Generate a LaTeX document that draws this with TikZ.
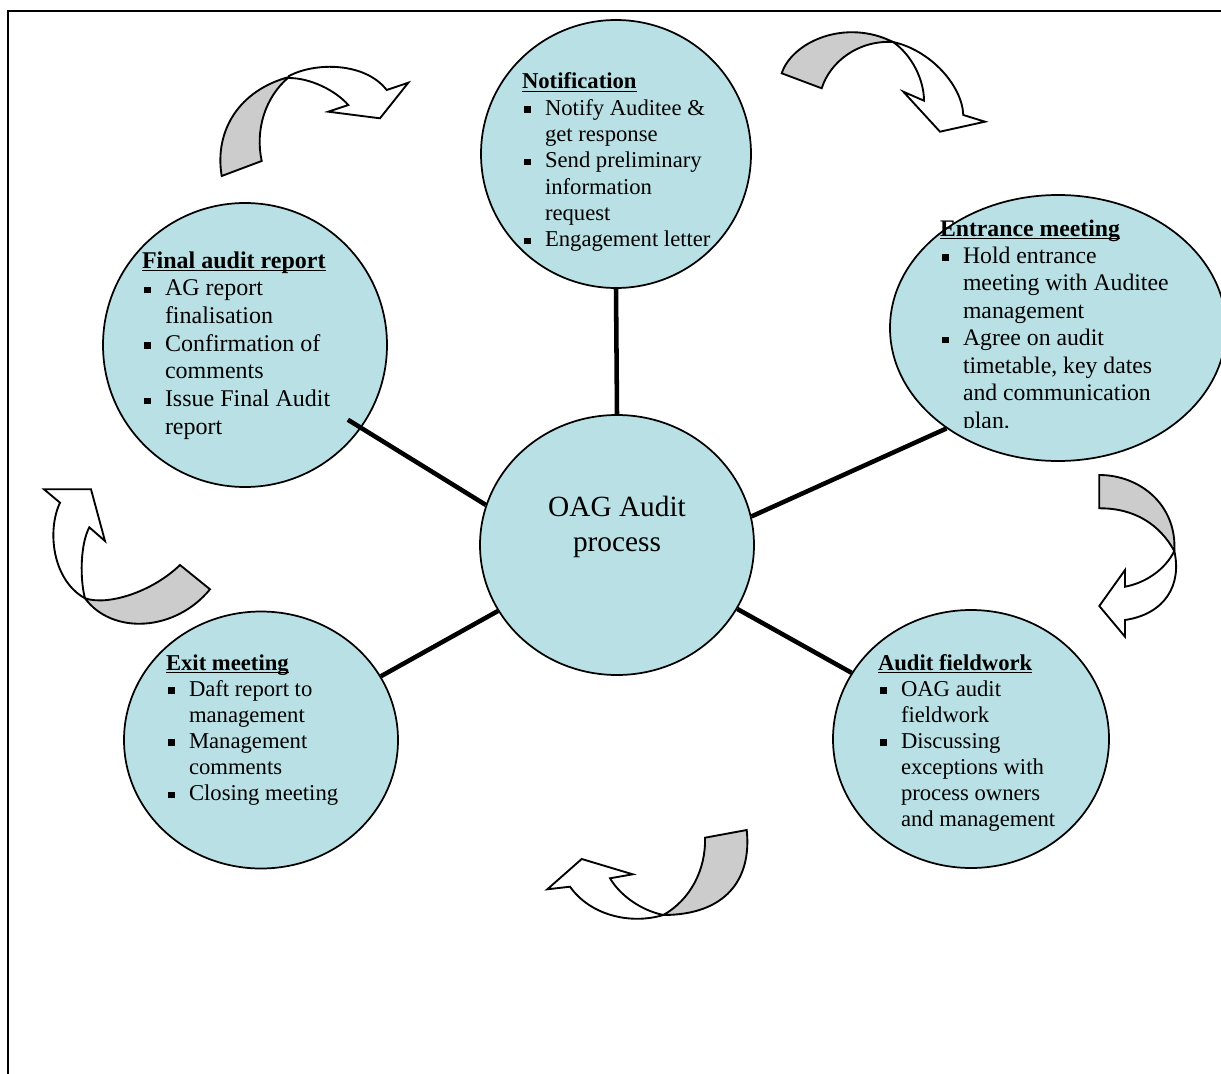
\documentclass[tikz,border=0pt]{standalone}
\usepackage{fontspec}
\setmainfont{Liberation Serif}
\usetikzlibrary{shapes.geometric,calc}
\definecolor{bubble}{RGB}{185,224,228}
\definecolor{backface}{RGB}{204,204,204}
\newcommand\bul{\makebox[17.25pt][l]{\hspace{1.5pt}\rule[1.8pt]{5pt}{5pt}}}
\newcommand\ind{\hspace*{17.25pt}}
\newcommand\ttl[1]{\leavevmode\setbox0\hbox{\textbf{#1}}\rlap{\rule[-2.6pt]{\wd0}{1.2pt}}\box0}
\newcommand\blk[3]{\parbox[t]{320pt}{\fontsize{#1}{#2}\selectfont\raggedright #3}}
\begin{document}
\begin{tikzpicture}[x=0.75pt,y=-0.75pt,
  bubblenode/.style={ellipse,draw=black,line width=1.3pt,fill=bubble,inner sep=0pt},
  txt/.style={inner sep=0pt,outer sep=0pt,anchor=base west},
  conn/.style={line width=3.4pt},
  backpart/.style={draw=black,line width=1.4pt,fill=backface,line join=miter},
  frontpart/.style={draw=black,line width=1.4pt,fill=white,line join=miter}]
\useasboundingbox (0,0) rectangle (1221,1074);
\draw[line width=1.5pt] (8,1074) -- (8,11) -- (1221,11);

% bubbles
\node[bubblenode,minimum width=202.5pt,minimum height=201pt] (notif) at (616,154) {};
\node[bubblenode,minimum width=252pt,minimum height=199.5pt] (entr) at (1058,328) {};
\node[bubblenode,minimum width=213pt,minimum height=213pt] (final) at (245,345) {};
\node[bubblenode,minimum width=205.5pt,minimum height=195pt] (oag) at (617,545) {};
\node[bubblenode,minimum width=207pt,minimum height=193.5pt] (field) at (971,739) {};
\node[bubblenode,minimum width=205.5pt,minimum height=192.75pt] (exit) at (261,740) {};

% connectors
\draw[conn] (notif.-90) -- (oag.90);
\draw[conn] (entr.-138) -- (oag.12.5);
\draw[conn] ($(final.center)!0.89!(final.-36)$) -- (oag.163);
\draw[conn] (field.151) -- (oag.-28.4);
\draw[conn] (exit.28.4) -- (oag.-151.4);

% texts
\node[font=\fontsize{22}{26.25}\selectfont,align=center] (oagtxt) at (617,527) {OAG Audit\\process};
\node[txt] (notiftxt) at (522,89) {\blk{17}{19.7}{\ttl{Notification}\\
\bul Notify Auditee \&\\ \ind get response\\
\bul Send preliminary\\ \ind information\\ \ind request\\
\bul Engagement letter}};
\begin{scope}
\clip (880,180) rectangle (1221,427);
\node[txt] (entrtxt) at (940,236) {\blk{17.8}{20.6}{\ttl{Entrance meeting}\\
\bul Hold entrance\\ \ind meeting with Auditee\\ \ind management\\
\bul Agree on audit\\ \ind timetable, key dates\\ \ind and communication\\ \ind plan.}};
\end{scope}
\node[txt] (finaltxt) at (142,268) {\blk{18}{20.8}{\ttl{Final audit report}\\
\bul AG report\\ \ind finalisation\\
\bul Confirmation of\\ \ind comments\\
\bul Issue Final Audit\\ \ind report}};
\node[txt] (fieldtxt) at (878,670) {\blk{17}{19.6}{\ttl{Audit fieldwork}\\
\bul OAG audit\\ \ind fieldwork\\
\bul Discussing\\ \ind exceptions with\\ \ind process owners\\ \ind and management}};
\node[txt] (exittxt) at (166,670) {\blk{17}{19.6}{\ttl{Exit meeting}\\
\bul Daft report to\\ \ind management\\
\bul Management\\ \ind comments\\
\bul Closing meeting}};

% curved arrow 1 (top left)
\draw[backpart] (221.7,176) -- (261.7,161) .. controls (255,130) and (265,97) .. (289,77)
  .. controls (240,90) and (214,130) .. (221.7,176) -- cycle;
\draw[frontpart] (289,76) .. controls (315,62) and (365,62) .. (386.7,90)
  -- (408.3,82.7) -- (380,118.3) -- (328.3,111.7) -- (348.3,105)
  .. controls (335,90) and (310,78) .. (289,78) -- cycle;

% curved arrow 2 (top right)
\draw[backpart] (781.7,73.3) .. controls (792,42) and (845,18) .. (893,42)
  .. controls (858,40) and (830,62) .. (821.7,88.3) -- cycle;
\draw[frontpart] (893,42) .. controls (930,50) and (962,85) .. (963.3,115)
  -- (985,121.7) -- (940,131.7) -- (903.3,91.7) -- (924,100.7)
  .. controls (924,80) and (912,55) .. (893,42) -- cycle;

% curved arrow 3 (right)
\draw[backpart] (1099.3,475) -- (1099.3,508.3) .. controls (1135,508) and (1160,525) .. (1174.3,551)
  .. controls (1177,505) and (1140,475) .. (1099.3,475) -- cycle;
\draw[frontpart] (1174.3,551) .. controls (1182,585) and (1165,614) .. (1125,620)
  -- (1125,636.7) -- (1099.3,606) -- (1125,570) -- (1125,586.7)
  .. controls (1145,583) and (1165,570) .. (1174.3,551) -- cycle;

% curved arrow 4 (left)
\draw[backpart] (180,565) .. controls (152,592) and (108,606) .. (85,598.3)
  .. controls (112,635) and (175,632) .. (210,589.3) -- cycle;
\draw[frontpart] (85,598.3) .. controls (52,580) and (47,530) .. (60,502.7)
  -- (44,489.3) -- (91,489.3) -- (105,541) -- (89.3,527.3)
  .. controls (80,545) and (80,580) .. (85,598.3) -- cycle;

% curved arrow 5 (bottom)
\draw[backpart] (705,837.7) .. controls (706,870) and (690,900) .. (663.3,915)
  .. controls (725,915) and (752,880) .. (746.7,830) -- cycle;
\draw[frontpart] (663.3,915) .. controls (630,925) and (590,915) .. (570,886.7)
  -- (547.3,889.3) -- (581.7,859) -- (632.7,874.3) -- (610,878.3)
  .. controls (620,895) and (640,910) .. (663.3,915) -- cycle;
\end{tikzpicture}
\end{document}
